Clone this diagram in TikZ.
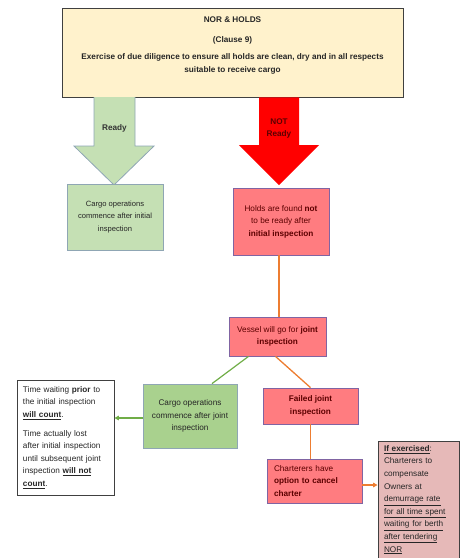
\documentclass[tikz,border=0pt]{standalone}
\usepackage{fontspec}
\setmainfont{Liberation Sans}
\usepackage{tikz}
\usetikzlibrary{positioning,calc,arrows.meta}
\definecolor{norfill}{HTML}{FFF2CC}
\definecolor{darkedge}{HTML}{404040}
\definecolor{readyfill}{HTML}{C5E0B4}
\definecolor{jointgreen}{HTML}{A9D18E}
\definecolor{greenedge}{HTML}{8FA6B4}
\definecolor{notred}{HTML}{FF0000}
\definecolor{holdsred}{HTML}{FF7C80}
\definecolor{holdsedge}{HTML}{8064A2}
\definecolor{holdstext}{HTML}{5C0000}
\definecolor{cancelfill}{HTML}{E6B9B8}
\definecolor{linkorange}{HTML}{ED7D31}
\definecolor{linkgreen}{HTML}{70AD47}

\begin{document}
\begin{tikzpicture}[x=1pt, y=-1pt,
	>={Triangle[length=4.5pt,width=4.5pt]},
	base/.style={rectangle, line width=0.8pt, inner sep=3pt, align=center,
		font=\fontsize{8.2}{12.6}\selectfont, text=black!85},
	readybox/.style={base, draw=greenedge, fill=readyfill},
	jointbox/.style={base, draw=greenedge, fill=jointgreen},
	holdsbox/.style={base, draw=holdsedge, fill=holdsred, text=holdstext},
	notebox/.style={base, draw=darkedge, align=left, inner xsep=6pt, inner ysep=4pt},
	orangelink/.style={draw=linkorange, line width=1.3pt},
	greenlink/.style={draw=linkgreen, line width=1.2pt}]
	\useasboundingbox (0,0) rectangle (461,558);
	\node[base, draw=darkedge, fill=norfill, minimum width=341pt, minimum height=89pt, font=\fontsize{8.2}{12.6}\selectfont\bfseries] (nor) at (232.5,52.5)
		{NOR \& HOLDS\\[7pt](Clause 9)\\[5pt]Exercise of due diligence to ensure all holds are clean, dry and in all respects\\suitable to receive cargo\\[3pt]~};
	\draw[fill=readyfill, draw=greenedge, line width=0.8pt] (94,97) -- (94,146) -- (74,146) -- (114,185) -- (154,146) -- (135,146) -- (135,97);
	\fill[notred] (259,97.4) -- (259,145) -- (239,145) -- (279,185) -- (319,145) -- (299,145) -- (299,97.4) -- cycle;
	\node[font=\fontsize{8.2}{12}\selectfont\bfseries, text=black!80] (ready) at (114.5,128) {Ready};
	\node[font=\fontsize{8.2}{12}\selectfont\bfseries, text=holdstext, align=center] (notready) at (279,128) {NOT\\Ready};
	\node[readybox, minimum width=96pt, minimum height=66pt, font=\fontsize{7.6}{12.6}\selectfont] (initial) at (115,217)
		{Cargo operations\\commence after initial\\inspection};
	\node[holdsbox, minimum width=96pt, minimum height=67pt] (holds) at (281,221.5)
		{Holds are found \textbf{not}\\to be ready after\\\textbf{initial inspection}};
	\node[holdsbox, minimum width=97pt, minimum height=39pt] (joint) at (277.5,336.5)
		{Vessel will go for \textbf{joint}\\\textbf{inspection}};
	\node[jointbox, minimum width=94pt, minimum height=64pt] (afterjoint) at (190,416)
		{Cargo operations\\commence after joint\\inspection};
	\node[holdsbox, minimum width=95pt, minimum height=36pt] (failed) at (310.5,406)
		{\textbf{Failed joint}\\\textbf{inspection}};
	\node[holdsbox, align=left, inner xsep=7pt, text width=81pt, minimum height=44pt] (cancel) at (314.5,481)
		{Charterers have\\\textbf{option to cancel}\\\textbf{charter}};
	\node[notebox, fill=white, text width=85pt, minimum height=115pt] (timecount) at (65.5,437.5)
		{Time waiting \textbf{prior} to\\the initial inspection\\\underline{\textbf{will count}}.\\[6pt]Time actually lost\\after initial inspection\\until subsequent joint\\inspection \underline{\textbf{will not}}\\\underline{\textbf{count}}.};
	\node[notebox, fill=cancelfill, text width=69pt, anchor=north] (exercised) at (418.5,441)
		{\underline{\textbf{If exercised}}:\\Charterers to\\compensate\\Owners at\\\underline{demurrage rate}\\\underline{for all time spent}\\\underline{waiting for berth}\\\underline{after tendering}\\\underline{NOR}};
	\draw[orangelink] ($(holds.south)+(-2,0)$) -- ($(holds.south |- joint.north)+(-2,0)$);
	\draw[greenlink] ($(joint.south)+(-29,0)$) -- ($(afterjoint.north)+(22,0)$);
	\draw[orangelink] ($(joint.south)+(-2,0)$) -- (failed.north);
	\draw[orangelink] (failed.south) -- (failed.south |- cancel.north);
	\draw[orangelink, ->] ($(cancel.east)+(0,4)$) -- ($(cancel.east -| exercised.west)+(0,4)$);
	\draw[greenlink, ->] ($(afterjoint.west)+(0,2)$) -- ($(afterjoint.west -| timecount.east)+(0,2)$);
\end{tikzpicture}
\end{document}
